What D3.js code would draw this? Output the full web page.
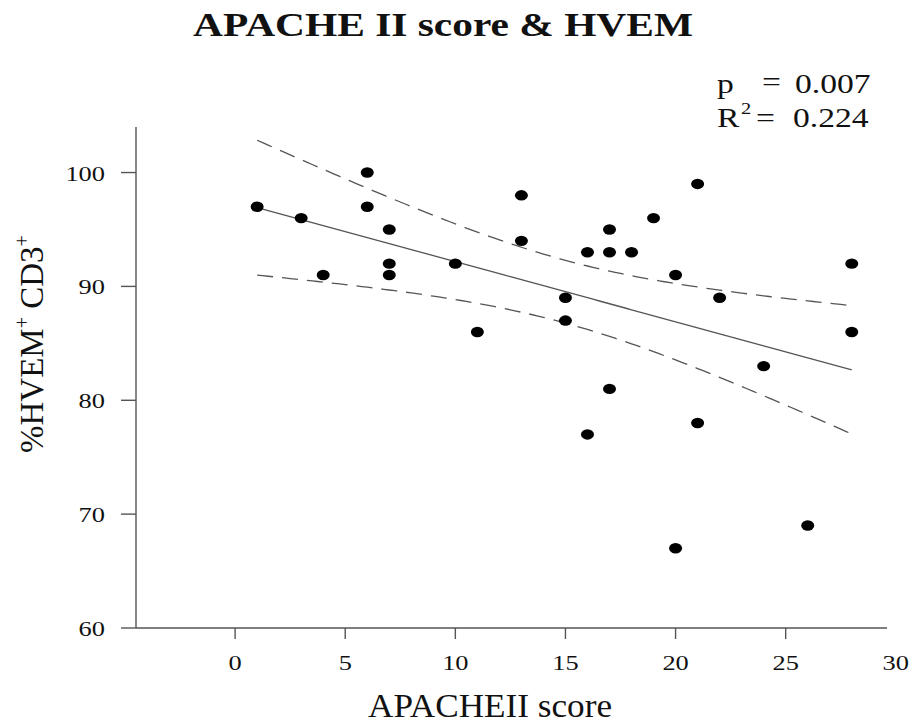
<!DOCTYPE html>
<html>
<head>
<meta charset="utf-8">
<script src="https://cdn.jsdelivr.net/npm/d3@7"></script>
<style>
  body { margin: 0; background: #fff; }
  text { font-family: "Liberation Serif", "DejaVu Serif", serif; fill: #111; }
</style>
</head>
<body>
<svg id="chart" width="916" height="728"></svg>
<script>
// APACHE II score vs %HVEM+ CD3+ (one row per patient)
const apache = [1, 3, 4, 6, 6, 7, 7, 7, 10, 11, 13, 13, 15, 15, 16, 16, 17, 17, 17, 18, 19, 20, 20, 21, 21, 22, 24, 26, 28, 28];
const hvem = [97, 96, 91, 100, 97, 95, 92, 91, 92, 86, 98, 94, 89, 87, 93, 77, 95, 93, 81, 93, 96, 91, 67, 99, 78, 89, 83, 69, 92, 86];

const xTicks = [0, 5, 10, 15, 20, 25];
const xTickLabels = [0, 5, 10, 15, 20, 25, 30];
const yTicks = [60, 70, 80, 90, 100];

const svg = d3.select("#chart");
const SX = 1.2; // the source picture is stretched sideways a little
const AXIS_COLOR = "#555";

const x = d3.scaleLinear([-4.5, 29.6], [136, 887]);
const y = d3.scaleLinear([60, 104], [628, 127]);

function label(g, tx, ty, str, size, anchor) {
  return g
    .append("text")
    .attr("transform", `translate(${tx},${ty}) scale(${SX},1)`)
    .attr("text-anchor", anchor || "middle")
    .attr("font-size", size)
    .text(str);
}

// least squares fit with 95% confidence band for the mean
function fit(xs, ys) {
  const n = xs.length;
  const mx = d3.mean(xs);
  const my = d3.mean(ys);
  const sxx = d3.sum(xs, (v) => (v - mx) ** 2);
  const sxy = d3.sum(xs, (v, i) => (v - mx) * (ys[i] - my));
  const b = sxy / sxx;
  const a = my - b * mx;
  const sse = d3.sum(xs, (v, i) => (ys[i] - (a + b * v)) ** 2);
  const s = Math.sqrt(sse / (n - 2));
  const t = 2.048; // t(0.975, 28)
  return (v) => {
    const yh = a + b * v;
    const h = t * s * Math.sqrt(1 / n + (v - mx) ** 2 / sxx);
    return { x: v, y: yh, lo: yh - h, hi: yh + h };
  };
}

// axes
const axes = svg.append("g").attr("stroke", AXIS_COLOR).attr("stroke-width", 1.4);
axes.append("line").attr("x1", x.range()[0]).attr("x2", x.range()[0]).attr("y1", y.range()[0]).attr("y2", y.range()[1]);
axes.append("line").attr("x1", x.range()[0]).attr("x2", x.range()[1]).attr("y1", y.range()[0]).attr("y2", y.range()[0]);

axes
  .selectAll(".ytick")
  .data(yTicks)
  .join("line")
  .attr("x1", x.range()[0] - 15)
  .attr("x2", x.range()[0])
  .attr("y1", (d) => y(d))
  .attr("y2", (d) => y(d));

axes
  .selectAll(".xtick")
  .data(xTicks)
  .join("line")
  .attr("class", "xtick")
  .attr("x1", (d) => x(d))
  .attr("x2", (d) => x(d))
  .attr("y1", y.range()[0])
  .attr("y2", y.range()[0] + 11);

const labels = svg.append("g");
yTicks.forEach((d) => label(labels, 105, y(d) + 8, d, 22, "end"));
xTickLabels.forEach((d) => label(labels, x(d), 670, d, 22));

// fit lines
const f = fit(apache, hvem);
const span = d3.range(d3.min(apache), d3.max(apache) + 0.01, 0.25).map(f);
const lines = svg.append("g").attr("fill", "none").attr("stroke", "#555").attr("stroke-width", 1.3);
lines.append("path").attr("d", d3.line((d) => x(d.x), (d) => y(d.y))(span));
lines
  .append("path")
  .attr("stroke-dasharray", "16,9")
  .attr("d", d3.line((d) => x(d.x), (d) => y(d.hi))(span));
lines
  .append("path")
  .attr("stroke-dasharray", "16,9")
  .attr("d", d3.line((d) => x(d.x), (d) => y(d.lo))(span));

// points
svg
  .append("g")
  .selectAll("ellipse")
  .data(apache)
  .join("ellipse")
  .attr("cx", (d) => x(d))
  .attr("cy", (d, i) => y(hvem[i]))
  .attr("rx", 6.5)
  .attr("ry", 5.2)
  .attr("fill", "#000");

// titles
svg
  .append("text")
  .attr("x", 193)
  .attr("y", 36)
  .attr("font-size", 34)
  .attr("font-weight", "bold")
  .attr("textLength", 500)
  .attr("lengthAdjust", "spacingAndGlyphs")
  .text("APACHE II score & HVEM");

svg
  .append("text")
  .attr("x", 368)
  .attr("y", 717)
  .attr("font-size", 33)
  .attr("textLength", 244)
  .attr("lengthAdjust", "spacingAndGlyphs")
  .text("APACHEII score");

const yt = svg
  .append("text")
  .attr("transform", "translate(43,453) rotate(-90)")
  .attr("font-size", 33);
yt.append("tspan").text("%HVEM");
yt.append("tspan").attr("font-size", 20).attr("dy", -14).text("+");
yt.append("tspan").attr("dy", 14).text(" CD3");
yt.append("tspan").attr("font-size", 20).attr("dy", -14).text("+");

// stats
const stats = svg.append("g");
label(stats, 717, 93, "p", 28, "start");
label(stats, 762, 91, "=", 28, "start");
label(stats, 795, 93, "0.007", 28, "start");
label(stats, 717, 127, "R", 28, "start");
label(stats, 741, 114, "2", 17, "start");
label(stats, 756, 127, "=", 28, "start");
label(stats, 793, 127, "0.224", 28, "start");
</script>
</body>
</html>
